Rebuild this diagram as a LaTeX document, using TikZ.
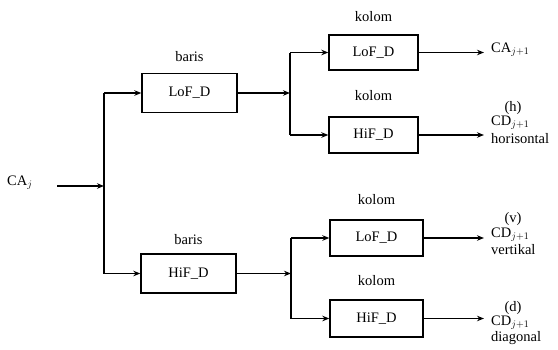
\documentclass[tikz,border=0pt]{standalone}
\usepackage{fontspec}
\setmainfont{Liberation Serif}
\usetikzlibrary{arrows.meta}
\begin{document}
\begin{tikzpicture}[x=1pt,y=-1pt,
  font=\fontsize{14.5}{16}\selectfont,
  wire/.style={line width=1.4pt},
  arr/.style={wire,-{Stealth[length=7pt,width=5.5pt]}},
  blk/.style={draw,line width=1.4pt,minimum height=#1,inner sep=0pt},
  lbl/.style={inner sep=0pt},
]
\useasboundingbox (0,0) rectangle (558,349);
% first stage boxes
\node[blk=39pt,minimum width=95pt] (b1) at (189.5,93) {LoF\_D\hspace{12pt}};
\node[blk=39pt,minimum width=95pt] (b2) at (188.5,273.5) {HiF\_D\hspace{12pt}};
% second stage boxes
\node[blk=35pt,minimum width=89pt] (c1) at (373.5,52.5) {LoF\_D\hspace{6pt}};
\node[blk=36pt,minimum width=89pt] (c2) at (373.5,135) {HiF\_D\hspace{6pt}};
\node[blk=36pt,minimum width=93pt] (c3) at (376.5,238) {LoF\_D\hspace{6pt}};
\node[blk=37pt,minimum width=93pt] (c4) at (376.5,318.5) {HiF\_D\hspace{6pt}};
% labels above boxes
\node[lbl] (lb1) at (b1.north |- 0,57) {baris};
\node[lbl] (lb2) at (b2.north |- 0,240) {baris};
\node[lbl] (lc1) at (c1.north |- 0,17) {kolom};
\node[lbl] (lc2) at (c2.north |- 0,96) {kolom};
\node[lbl] (lc3) at (c3.north |- 0,200) {kolom};
\node[lbl] (lc4) at (c4.north |- 0,281) {kolom};
% input
\node[lbl,anchor=west] (ca) at (7,183) {CA$_j$};
\coordinate (in) at (57,186);
\coordinate (s0) at (104,186);
\coordinate (s1) at (290,93);
\coordinate (s2) at (291,274);
\draw[arr] (in) -- (s0);
\draw[wire] (b1.west -| s0) -- (b2.west -| s0);
\draw[arr] (b1.west -| s0) -- (b1.west);
\draw[arr] (b2.west -| s0) -- (b2.west);
% stage 2 split top
\draw[arr] (b1.east) -- (b1.east -| s1);
\draw[wire] (c1.west -| s1) -- (c2.west -| s1);
\draw[arr] (c1.west -| s1) -- (c1.west);
\draw[arr] (c2.west -| s1) -- (c2.west);
% stage 2 split bottom
\draw[arr] (b2.east) -- (b2.east -| s2);
\draw[wire] (c3.west -| s2) -- (c4.west -| s2);
\draw[arr] (c3.west -| s2) -- (c3.west);
\draw[arr] (c4.west -| s2) -- (c4.west);
% outputs
\coordinate (o1) at (c1.east -| 484,0);
\coordinate (o2) at (c2.east -| 484,0);
\coordinate (o3) at (c3.east -| 484,0);
\coordinate (o4) at (c4.east -| 484,0);
\draw[arr] (c1.east) -- (o1);
\draw[arr] (c2.east) -- (o2);
\draw[arr] (c3.east) -- (o3);
\draw[arr] (c4.east) -- (o4);
% output labels
\node[lbl,anchor=west] (t1) at (491,50) {CA$_{j+1}$};
\node[lbl] (h) at (513,108) {(h)};
\node[lbl,anchor=west] (t2) at (491,123) {CD$_{j+1}$};
\node[lbl,anchor=west] (t2b) at (491,139) {horisontal};
\node[lbl] (v) at (513,219) {(v)};
\node[lbl,anchor=west] (t3) at (491,235) {CD$_{j+1}$};
\node[lbl,anchor=west] (t3b) at (491,250) {vertikal};
\node[lbl] (d) at (513,308) {(d)};
\node[lbl,anchor=west] (t4) at (491,323) {CD$_{j+1}$};
\node[lbl,anchor=west] (t4b) at (491,338) {diagonal};
\end{tikzpicture}
\end{document}
